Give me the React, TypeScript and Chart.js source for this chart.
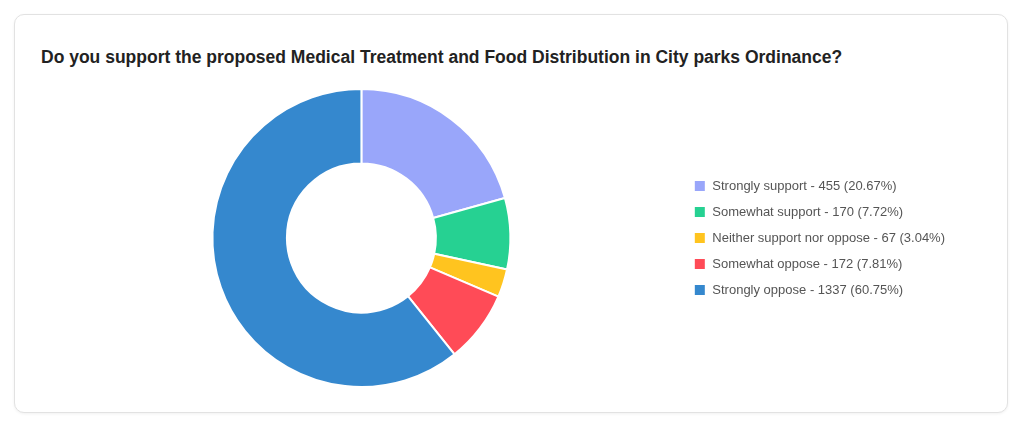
import React, { useEffect, useRef } from "react";
import { Chart, registerables } from "chart.js";

Chart.register(...registerables);

const TITLE = "Do you support the proposed Medical Treatment and Food Distribution in City parks Ordinance?";
const categories = [
  "Strongly support",
  "Somewhat support",
  "Neither support nor oppose",
  "Somewhat oppose",
  "Strongly oppose",
];
const counts = [455, 170, 67, 172, 1337];
const colors = ["#99A6FA", "#26D192", "#FFC41F", "#FF4B57", "#3588CE"];

const total = counts.reduce((a, b) => a + b, 0);
const legendLabels = categories.map(
  (c, i) => `${c} - ${counts[i]} (${((counts[i] / total) * 100).toFixed(2)}%)`
);

export default function App() {
  const ref = useRef<HTMLCanvasElement | null>(null);
  useEffect(() => {
    if (!ref.current) return;
    const chart = new Chart(ref.current, {
      type: "doughnut",
      data: {
        labels: legendLabels,
        datasets: [
          {
            data: counts,
            backgroundColor: colors,
            borderColor: "#ffffff",
            borderWidth: 2,
          },
        ],
      },
      options: {
        animation: false,
        responsive: false,
        maintainAspectRatio: false,
        cutout: "50%",
        layout: { padding: { left: 27, right: 52, top: 8, bottom: 12 } },
        plugins: {
          legend: {
            position: "right",
            labels: {
              boxWidth: 12,
              boxHeight: 12,
              padding: 13,
              color: "#555555",
              font: { family: "'Liberation Sans', Arial, sans-serif", size: 13 },
            },
          },
          tooltip: { enabled: false },
        },
      },
    });
    return () => chart.destroy();
  }, []);
  return (
    <div
      style={{
        position: "absolute",
        left: 14,
        top: 14,
        width: 994,
        height: 399,
        boxSizing: "border-box",
        border: "1px solid #e2e2e2",
        borderRadius: 10,
        boxShadow: "0 1px 3px rgba(0,0,0,0.06)",
        background: "#fff",
      }}
    >
      <div
        style={{
          position: "absolute",
          left: 26,
          top: 32,
          fontFamily: "'Liberation Sans', Arial, sans-serif",
          fontWeight: 700,
          fontSize: 17.5,
          lineHeight: "20px",
          color: "#222",
          whiteSpace: "nowrap",
        }}
      >
        {TITLE}
      </div>
      <canvas
        ref={ref}
        width={992}
        height={320}
        style={{ position: "absolute", left: 0, top: 65, width: 992, height: 320 }}
      />
    </div>
  );
}
